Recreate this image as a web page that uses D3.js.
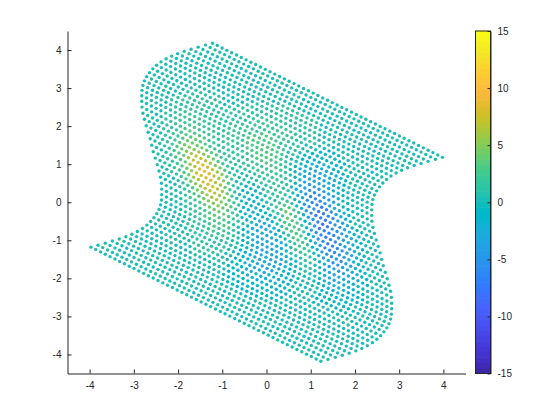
<!DOCTYPE html>
<html><head><meta charset="utf-8">
<script src="https://cdn.jsdelivr.net/npm/d3@7"></script>
<style>html,body{margin:0;background:#fff}svg{display:block}text{font-family:"Liberation Sans",Arial,sans-serif;font-size:10px;fill:#262626}</style>
</head><body><svg id="c" width="560" height="420"></svg>
<script>
const xTicks=[-4,-3,-2,-1,0,1,2,3,4];
const yTicks=[-4,-3,-2,-1,0,1,2,3,4];
const cbTicks=[-15,-10,-5,0,5,10,15];
const rowX=[-1.22,-1.38,-1.545,-1.705,-1.86,-2.01,-2.145,-2.27,-2.385,-2.485,-2.57,-2.645,-2.71,-2.76,-2.795,-2.815,-2.82,-2.82,-2.815,-2.795,-2.76,-2.72,-2.675,-2.63,-2.595,-2.56,-2.515,-2.47,-2.43,-2.395,-2.375,-2.37,-2.37,-2.375,-2.395,-2.43,-2.48,-2.545,-2.62,-2.705,-2.805,-2.92,-3.045,-3.18,-3.33,-3.485,-3.645,-3.81,-3.97];
const rowY=[4.18,4.13,4.075,4.02,3.965,3.905,3.84,3.77,3.69,3.60,3.505,3.405,3.30,3.19,3.07,2.94,2.80,2.655,2.50,2.34,2.18,2.01,1.84,1.67,1.50,1.33,1.16,.99,.82,.66,.50,.345,.20,.06,-.07,-.19,-.30,-.405,-.505,-.60,-.69,-.77,-.84,-.905,-.965,-1.02,-1.075,-1.13,-1.18];
const colDX=[0,.108,.217,.325,.433,.542,.65,.758,.867,.975,1.083,1.192,1.3,1.408,1.517,1.625,1.733,1.842,1.95,2.058,2.167,2.275,2.383,2.492,2.6,2.708,2.817,2.925,3.033,3.142,3.25,3.358,3.467,3.575,3.683,3.792,3.9,4.008,4.117,4.225,4.333,4.442,4.55,4.658,4.767,4.875,4.983,5.092,5.2];
const colDY=[0,-.062,-.125,-.188,-.25,-.312,-.375,-.438,-.5,-.562,-.625,-.688,-.75,-.812,-.875,-.938,-1,-1.062,-1.125,-1.188,-1.25,-1.312,-1.375,-1.438,-1.5,-1.562,-1.625,-1.688,-1.75,-1.812,-1.875,-1.938,-2,-2.062,-2.125,-2.188,-2.25,-2.312,-2.375,-2.438,-2.5,-2.562,-2.625,-2.688,-2.75,-2.812,-2.875,-2.938,-3];
// colour values per mesh row; each list starts at column 3, unlisted columns read as 0
const zRows=[
[],[],[],[],[],
[0,0,0,0,0,0,0,0,0,0,0,0,0,0,0,0,0,0,1,1,1,1,1,1,1,1,1],
[0,0,0,0,0,0,0,0,0,0,0,0,0,0,0,0,0,1,1,1,1,1,1,1,1,1,1,1],
[0,0,0,0,0,0,0,0,0,0,0,0,0,0,0,0,1,1,1,1,1,1,1,1,1,1,1,1,1],
[0,0,0,0,0,0,0,0,0,0,0,0,0,0,0,1,1,1,1,1,1,1,2,1,1,1,1,1,1,1],
[0,0,0,0,0,0,0,0,1,1,1,0,0,0,0,1,1,1,1,2,2,2,2,2,2,2,1,1,1,1,1,0,0,-1,-1,-1],
[0,0,0,0,0,0,1,1,1,1,1,1,0,1,1,1,1,1,2,2,2,2,2,2,2,2,2,1,1,0,0,0,-1,-1,-1,-1,-1,-1],
[0,0,0,0,0,1,1,1,1,1,1,1,1,1,1,1,1,1,2,2,2,2,2,2,2,2,2,1,1,0,0,-1,-1,-1,-1,-1,-1,-1],
[0,0,0,0,0,1,1,1,1,1,1,1,1,1,1,1,1,2,2,2,2,3,3,3,2,2,2,1,1,0,-1,-1,-1,-2,-2,-2,-1,-1,-1],
[0,0,0,0,1,1,1,1,1,1,1,1,1,1,1,1,2,2,2,2,3,3,3,3,3,2,2,1,1,0,-1,-1,-2,-2,-2,-2,-2,-1,-1,-1],
[0,0,0,1,1,1,1,1,2,1,1,1,1,1,1,2,2,2,2,3,3,3,3,3,3,3,2,1,0,0,-1,-2,-2,-3,-3,-2,-2,-2,-1,-1],
[0,0,0,1,1,1,2,2,2,2,2,1,1,1,1,2,2,2,2,3,3,3,3,3,3,3,2,1,0,-1,-2,-2,-3,-4,-3,-3,-2,-2,-1,-1],
[0,0,1,1,1,2,2,2,2,2,2,2,2,1,1,2,2,2,2,3,3,3,3,3,3,3,2,1,0,-1,-2,-3,-4,-4,-4,-4,-3,-2,-2,-1,-1],
[0,0,1,1,1,2,2,2,3,2,2,2,2,1,1,2,1,2,2,2,2,3,3,3,3,3,2,1,0,-1,-2,-3,-4,-5,-5,-4,-3,-3,-2,-1,-1],
[0,0,1,1,2,2,3,3,3,3,3,2,2,1,1,1,1,1,1,2,2,2,2,2,2,2,1,1,0,-1,-3,-4,-5,-6,-5,-5,-4,-3,-2,-1,-1],
[0,0,1,1,2,2,3,3,4,3,3,2,2,2,1,1,1,1,1,2,2,2,2,2,2,2,1,1,0,-2,-3,-5,-6,-6,-6,-5,-4,-3,-2,-1,-1],
[0,1,1,2,2,3,4,4,4,4,4,3,3,2,1,1,1,1,1,1,1,1,1,2,2,2,1,1,0,-2,-3,-5,-6,-7,-7,-6,-5,-4,-2,-2,-1],
[0,1,1,2,3,4,5,5,6,5,5,4,3,2,1,1,0,0,0,1,1,1,1,1,2,2,1,1,0,-2,-4,-5,-6,-7,-7,-6,-5,-4,-3,-2,-1,-1],
[0,1,2,3,4,5,6,7,7,7,6,5,4,3,1,1,0,0,0,0,0,0,1,1,2,2,2,1,0,-2,-4,-5,-7,-7,-7,-6,-5,-4,-3,-2,-1,-1],
[1,1,2,3,4,6,7,8,8,8,7,6,5,3,1,0,0,-1,-1,-1,0,0,1,1,2,3,3,2,1,-1,-4,-5,-7,-8,-7,-6,-5,-4,-3,-2,-1,-1],
[1,1,2,3,4,6,7,8,9,8,7,6,5,3,1,0,-1,-1,-1,-1,-1,0,1,2,3,4,3,2,1,-1,-3,-5,-7,-7,-7,-6,-5,-4,-3,-2,-1,-1],
[1,1,2,3,4,6,7,8,8,8,7,6,4,2,1,0,-1,-2,-2,-1,-1,0,1,1,2,4,3,3,1,-1,-3,-5,-6,-7,-7,-6,-5,-4,-3,-2,-1,-1],
[1,1,2,3,4,6,7,8,8,8,7,6,4,2,1,0,-1,-2,-2,-2,-1,-1,0,1,2,3,3,3,1,-1,-3,-5,-6,-7,-7,-6,-5,-4,-2,-2,-1],
[1,1,2,3,4,5,6,7,7,7,6,5,3,2,1,-1,-1,-2,-2,-2,-2,-1,0,1,2,3,3,3,1,-1,-3,-4,-6,-6,-6,-5,-4,-3,-2,-1,-1],
[0,1,1,2,3,4,5,6,6,6,5,4,3,1,0,-1,-2,-2,-3,-3,-3,-2,-1,0,1,3,3,2,1,-1,-2,-4,-5,-6,-5,-5,-4,-3,-2,-1,-1],
[0,1,1,2,3,3,4,5,5,5,4,3,2,1,0,-1,-2,-2,-3,-3,-3,-2,-1,0,1,2,2,2,1,0,-2,-3,-4,-5,-5,-4,-3,-3,-2,-1,-1],
[0,1,1,2,2,3,4,4,4,4,4,3,2,1,0,-1,-2,-3,-3,-3,-3,-3,-2,-1,0,2,2,2,1,0,-1,-3,-4,-4,-4,-4,-3,-2,-2,-1,-1],
[0,0,1,1,2,2,3,3,4,3,3,2,1,0,-1,-1,-2,-3,-3,-3,-3,-3,-2,-1,0,1,1,2,1,0,-1,-2,-3,-4,-3,-3,-2,-2,-1,-1],
[0,0,1,1,2,2,3,3,3,3,3,2,1,0,-1,-1,-2,-3,-3,-3,-3,-3,-3,-2,-1,0,1,1,1,0,-1,-2,-3,-3,-3,-2,-2,-2,-1,-1],
[0,0,1,1,1,2,2,2,3,2,2,2,1,0,-1,-1,-2,-3,-3,-3,-3,-3,-3,-2,-1,0,0,1,0,0,-1,-2,-2,-2,-2,-2,-2,-1,-1,-1],
[0,0,0,1,1,1,2,2,2,2,2,1,0,0,-1,-1,-2,-3,-3,-3,-3,-3,-3,-2,-1,0,0,0,0,0,-1,-1,-2,-2,-2,-2,-1,-1,-1],
[0,0,0,1,1,1,1,1,2,1,1,1,0,0,-1,-1,-2,-2,-3,-3,-3,-3,-3,-2,-1,-1,0,0,0,0,0,-1,-1,-1,-1,-1,-1,-1],
[0,0,0,0,1,1,1,1,1,1,1,1,0,0,-1,-1,-2,-2,-3,-3,-3,-3,-2,-2,-1,-1,0,0,0,0,0,-1,-1,-1,-1,-1,-1,-1],
[0,0,0,0,0,1,1,1,1,1,1,1,0,0,-1,-1,-2,-2,-2,-2,-3,-2,-2,-2,-1,-1,0,0,0,0,0,-1,-1,-1,-1,-1],
[0,0,0,0,0,0,1,1,1,1,1,0,0,0,-1,-1,-1,-2,-2,-2,-2,-2,-2,-2,-1,-1],
[0,0,0,0,0,0,0,1,1,1,0,0,0,0,-1,-1,-1,-1,-2,-2,-2,-2,-2,-1,-1,-1,-1],
[0,0,0,0,0,0,0,0,0,0,0,0,0,0,0,-1,-1,-1,-1,-1,-1,-1,-1,-1,-1,-1],
[0,0,0,0,0,0,0,0,0,0,0,0,0,0,0,-1,-1,-1,-1,-1,-1,-1,-1,-1,-1,-1],
[0,0,0,0,0,0,0,0,0,0,0,0,0,0,0,0,0,-1,-1,-1,-1,-1,-1,-1],
[],[],[],[],[],[]
];
const parula=[[.2422,.1504,.6603],[.2504,.165,.7076],[.2578,.1818,.7511],[.2647,.1978,.7952],[.2706,.2147,.8364],[.2751,.2342,.871],[.2783,.2559,.8991],[.2803,.2782,.9221],[.2813,.3006,.9414],[.281,.3228,.9579],[.2795,.3447,.9717],[.276,.3667,.9829],[.2699,.3892,.9906],[.2602,.4123,.9952],[.244,.4358,.9988],[.2206,.4603,.9973],[.1963,.4847,.9892],[.1834,.5074,.9798],[.1786,.5289,.9682],[.1764,.5499,.952],[.1687,.5703,.9359],[.154,.5902,.9218],[.146,.6091,.9079],[.138,.6276,.8973],[.1248,.6459,.8883],[.1113,.6635,.8763],[.0952,.6798,.8598],[.0689,.6948,.8394],[.0297,.7082,.8163],[.0036,.7203,.7917],[.0067,.7312,.766],[.0433,.7411,.7394],[.0964,.75,.712],[.1408,.7584,.6842],[.1717,.767,.6554],[.1938,.7758,.6251],[.2161,.7843,.5923],[.247,.7918,.5567],[.2906,.7973,.5188],[.3406,.8008,.4789],[.3909,.8029,.4354],[.4456,.8024,.3909],[.5044,.7993,.348],[.5616,.7942,.3045],[.6174,.7876,.2612],[.672,.7793,.2227],[.7242,.7698,.191],[.7738,.7598,.1646],[.8203,.7498,.1535],[.8634,.7406,.1596],[.9035,.733,.1774],[.9393,.7288,.21],[.9728,.7298,.2394],[.9956,.7434,.2371],[.997,.7659,.2199],[.9952,.7893,.2028],[.9892,.8136,.1885],[.9786,.8386,.1766],[.9676,.8639,.1643],[.961,.889,.1537],[.9597,.9135,.1423],[.9628,.9373,.1265],[.9691,.9606,.1064],[.9769,.9839,.0805]];

const ink="#262626";
const svg=d3.select("#c");
const x=d3.scaleLinear().domain([-4.5,4.5]).range([67.5,465.5]);
const y=d3.scaleLinear().domain([-4.5,4.5]).range([373.5,31]);
const palette=parula.map(c=>d3.rgb(c[0]*255,c[1]*255,c[2]*255).formatHex());
const colour=d3.scaleQuantize().domain([-15,15]).range(palette);

const pts=[];
rowX.forEach((rx,j)=>colDX.forEach((dx,i)=>{
  pts.push({x:rx+dx,y:rowY[j]+colDY[i],z:i>=3?(zRows[j][i-3]??0):0});
}));
svg.append("g").selectAll("circle").data(pts).join("circle")
  .attr("cx",d=>x(d.x)).attr("cy",d=>y(d.y)).attr("r",1.7).attr("fill",d=>colour(d.z));

function style(g){
  g.selectAll("path,line").attr("stroke",ink).attr("stroke-width",1);
  g.selectAll("text").attr("fill",ink).style("font-size","10px");
}
const ax=svg.append("g").attr("transform","translate(0,373.5)")
  .call(d3.axisBottom(x).tickValues(xTicks).tickSize(-4).tickSizeOuter(0).tickPadding(8).tickFormat(d=>String(d)));
style(ax);
const ay=svg.append("g").attr("transform","translate(67.5,0)")
  .call(d3.axisLeft(y).tickValues(yTicks).tickSize(-4).tickSizeOuter(0).tickPadding(6).tickFormat(d=>String(d)));
style(ay);

const cbX0=475.5,cbX1=490.5;
const cb=d3.scaleLinear().domain([-15,15]).range([373.5,31]);
const cbDomain=d3.range(palette.length);
const band=(cb.range()[0]-cb.range()[1])/palette.length;
svg.append("g").selectAll("rect").data(cbDomain).join("rect")
  .attr("x",cbX0).attr("width",cbX1-cbX0)
  .attr("y",i=>373.5-(i+1)*band-0.3).attr("height",band+0.6)
  .attr("fill",i=>palette[i]);
svg.append("rect").attr("x",cbX0).attr("y",31).attr("width",cbX1-cbX0).attr("height",342.5)
  .attr("fill","none").attr("stroke",ink);
const ac=svg.append("g").attr("transform",`translate(${cbX1},0)`)
  .call(d3.axisRight(cb).tickValues(cbTicks).tickSize(-3).tickSizeOuter(0).tickPadding(7).tickFormat(d=>String(d)));
style(ac);
</script></body></html>
